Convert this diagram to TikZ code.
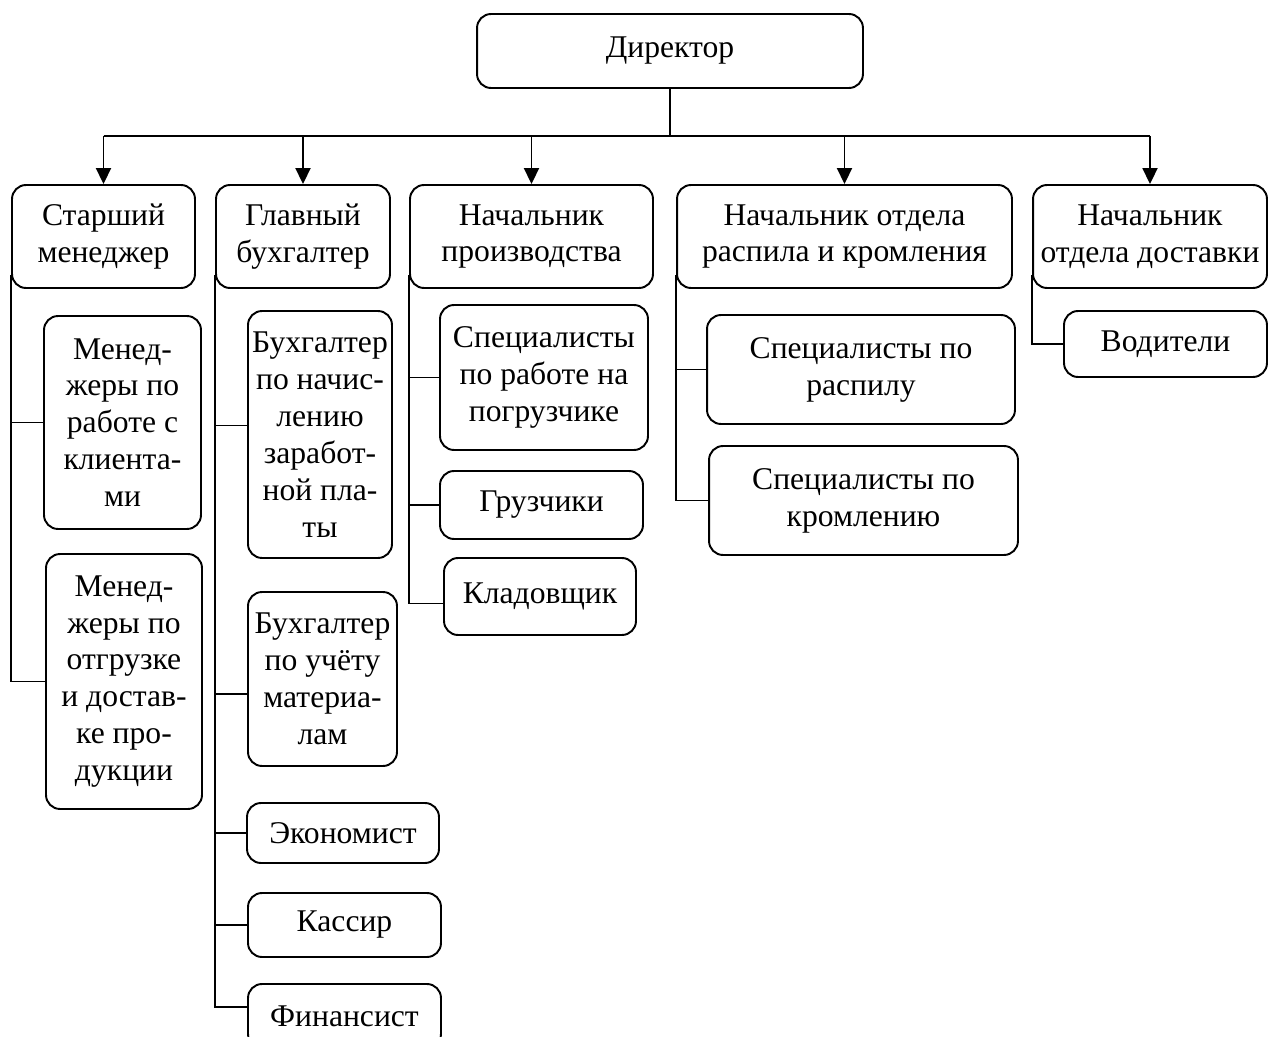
\documentclass[tikz,border=0pt]{standalone}
\usepackage{fontspec}
\setmainfont{Liberation Serif}
\usetikzlibrary{arrows.meta}
\begin{document}
\begin{tikzpicture}[x=0.02cm,y=-0.02cm,
  box/.style={draw, line width=1.1pt, rounded corners=0.28cm, align=center, inner sep=1pt, font=\fontsize{18}{21}\selectfont},
  conn/.style={line width=1.1pt},
  arr/.style={line width=1.1pt, -{Triangle[length=0.32cm,width=0.3cm]}}]
\useasboundingbox (0,0) rectangle (1268,1037);
\clip (0,0) rectangle (1268,1037);

% level 0
\node[box, minimum width=7.72cm, minimum height=1.48cm] (dir) at (670,51) {Директор};

% level 1
\node[box, minimum width=3.66cm, minimum height=2.06cm] (s1) at (103.5,236.5) {Старший\\менеджер};
\node[box, minimum width=3.48cm, minimum height=2.06cm] (s2) at (303,236.5) {Главный\\бухгалтер};
\node[box, minimum width=4.86cm, minimum height=2.06cm] (s3) at (531.5,236.5) {Начальник\\производства};
\node[box, minimum width=6.70cm, minimum height=2.06cm] (s4) at (844.5,236.5) {Начальник отдела\\распила и кромления};
\node[box, minimum width=4.68cm, minimum height=2.06cm] (s5) at (1150,236.5) {Начальник\\отдела доставки};

% level 2
\node[box, minimum width=3.14cm, minimum height=4.26cm] (c11) at (122.5,422.5) {Менед-\\жеры по\\работе с\\клиента-\\ми};
\node[box, minimum width=3.12cm, minimum height=5.10cm] (c12) at (124,681.5) {Менед-\\жеры по\\отгрузке\\и достав-\\ке про-\\дукции};

\node[box, minimum width=2.88cm, minimum height=4.94cm] (c21) at (320,434.5) {Бухгалтер\\по начис-\\лению\\заработ-\\ной пла-\\ты};
\node[box, minimum width=2.98cm, minimum height=3.48cm] (c22) at (322.5,679) {Бухгалтер\\по учёту\\материа-\\лам};
\node[box, minimum width=3.84cm, minimum height=1.20cm] (c23) at (343,833) {Экономист};
\node[box, minimum width=3.86cm, minimum height=1.28cm] (c24) at (344.5,925) {Кассир};
\node[box, minimum width=3.86cm, minimum height=1.28cm] (c25) at (344.5,1016) {Финансист};

\node[box, minimum width=4.16cm, minimum height=2.90cm] (c31) at (544,377.5) {Специалисты\\по работе на\\погрузчике};
\node[box, minimum width=4.06cm, minimum height=1.36cm] (c32) at (541.5,505) {Грузчики};
\node[box, minimum width=3.84cm, minimum height=1.54cm] (c33) at (540,596.5) {Кладовщик};

\node[box, minimum width=6.16cm, minimum height=2.18cm] (c41) at (861,369.5) {Специалисты по\\распилу};
\node[box, minimum width=6.18cm, minimum height=2.18cm] (c42) at (863.5,500.5) {Специалисты по\\кромлению};

\node[box, minimum width=4.06cm, minimum height=1.32cm] (c51) at (1165.5,344) {Водители};

% top connectors
\coordinate (bus) at (670,136);
\draw[conn] (dir.south) -- (bus);
\draw[conn] (s1.north |- bus) -- (s5.north |- bus);
\foreach \i in {1,...,5} \draw[arr] (s\i.north |- bus) -- (s\i.north);

% column 1
\draw[conn] ([yshift=0.28cm]s1.south west) |- (c12.west);
\draw[conn] (s1.south west |- c11.west) -- (c11.west);

% column 2
\coordinate (k21) at ([yshift=0.18cm]c21.west);
\coordinate (k22) at ([yshift=-0.30cm]c22.west);
\coordinate (k25) at ([yshift=0.18cm]c25.west);
\draw[conn] ([yshift=0.28cm]s2.south west) |- (k25);
\draw[conn] (s2.south west |- k21) -- (k21);
\draw[conn] (s2.south west |- k22) -- (k22);
\draw[conn] (s2.south west |- c23.west) -- (c23.west);
\draw[conn] (s2.south west |- c24.west) -- (c24.west);

% column 3
\draw[conn] ([yshift=0.28cm]s3.south west) |- ([yshift=-0.14cm]c33.west);
\draw[conn] (s3.south west |- c31.west) -- (c31.west);
\draw[conn] (s3.south west |- c32.west) -- (c32.west);

% column 4
\draw[conn] ([yshift=0.28cm]s4.south west) |- (c42.west);
\draw[conn] (s4.south west |- c41.west) -- (c41.west);

% column 5
\draw[conn] ([yshift=0.28cm]s5.south west) |- (c51.west);
\end{tikzpicture}
\end{document}
